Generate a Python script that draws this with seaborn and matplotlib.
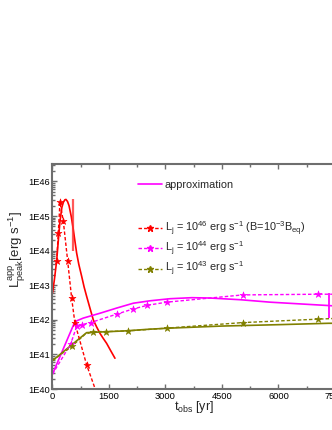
import numpy as np
import pandas as pd
import matplotlib
matplotlib.use("Agg")
import matplotlib.pyplot as plt
import seaborn as sns
from matplotlib.ticker import FuncFormatter, LogLocator, MultipleLocator, NullFormatter
from matplotlib.lines import Line2D

sns.set_style("ticks")
plt.rcParams['font.family'] = ['Liberation Sans', 'DejaVu Sans']
plt.rcParams['mathtext.fontset'] = 'custom'
plt.rcParams['mathtext.rm'] = 'Liberation Sans'
plt.rcParams['mathtext.it'] = 'Liberation Sans:italic'

# ---- data (t_obs in yr, log10 of L_peak) ----
red_approx_t = [0, 50, 111, 160, 200, 250, 290, 330, 358, 400, 440, 500, 553, 600, 642, 700, 775, 840, 907, 1000, 1084, 1170, 1261, 1350, 1438, 1550, 1659]
red_approx_logL = [42.77, 43.15, 43.7, 44.35, 44.85, 45.25, 45.4, 45.47, 45.48, 45.42, 45.3, 44.98, 44.61, 44.25, 43.93, 43.6, 43.26, 42.95, 42.68, 42.32, 42.0, 41.8, 41.61, 41.46, 41.32, 41.1, 40.89]

red_t = [111, 155, 199, 288, 403, 509, 597, 907, 1200]
red_logL = [43.69, 44.51, 45.4, 44.85, 43.71, 42.63, 41.9, 40.7, 39.8]
red_stars = [0, 1, 2, 3, 4, 5, 6, 7]

mag_approx_t = [0, 597, 818, 1261, 1705, 2146, 2589, 3120, 3700, 4183, 5000, 5781, 7368, 7500]
mag_approx_logL = [40.43, 41.95, 42.05, 42.19, 42.34, 42.48, 42.55, 42.61, 42.64, 42.63, 42.58, 42.51, 42.41, 42.40]

mag_t = [0, 483, 642, 775, 1014, 1721, 2129, 2519, 3030, 5050, 7058, 7500]
mag_logL = [40.43, 41.3, 41.81, 41.86, 41.92, 42.17, 42.31, 42.42, 42.51, 42.72, 42.74, 42.74]
mag_stars = [1, 2, 3, 4, 5, 6, 7, 8, 9, 10]

olv_approx_t = [0, 907, 1925, 2589, 3120, 4500, 6000, 7327, 7500]
olv_approx_logL = [40.82, 41.63, 41.68, 41.73, 41.76, 41.82, 41.86, 41.9, 41.9]

olv_t = [0, 509, 863, 1084, 1421, 2013, 3030, 5050, 7058, 7500]
olv_logL = [40.82, 41.23, 41.58, 41.66, 41.66, 41.68, 41.76, 41.92, 42.02, 42.04]
olv_stars = [1, 3, 4, 5, 6, 7, 8]

# vertical bars (t, log low, log high)
red_bar = (536, 43.98, 45.5)
mag_bar = (7330, 42.05, 42.77)

labels = ['approximation',
          r'L$_{\rm j}$ = 10$^{46}$ erg s$^{-1}$ (B=10$^{-3}$B$_{\rm eq}$)',
          r'L$_{\rm j}$ = 10$^{44}$ erg s$^{-1}$',
          r'L$_{\rm j}$ = 10$^{43}$ erg s$^{-1}$']

RED = '#FF0000'
MAG = '#FF00FF'
OLV = '#808000'
GREY = '#6E6E6E'
DASH = (0, (2.5, 1.5))

fig = plt.figure(figsize=(3.32, 4.30), dpi=100)
ax = fig.add_axes([0.158, 0.0953, 0.851, 0.523])

def L(v):
    return 10 ** np.asarray(v, dtype=float)

# approximations (solid)
for t, lg, c in [(red_approx_t, red_approx_logL, RED),
                 (mag_approx_t, mag_approx_logL, MAG),
                 (olv_approx_t, olv_approx_logL, OLV)]:
    sns.lineplot(x=t, y=L(lg), color=c, lw=1.2, ax=ax, sort=False, estimator=None)

# simulations (dashed with stars)
for t, lg, idx, c in [(red_t, red_logL, red_stars, RED),
                      (mag_t, mag_logL, mag_stars, MAG),
                      (olv_t, olv_logL, olv_stars, OLV)]:
    sns.lineplot(x=t, y=L(lg), color=c, lw=1.0, ls=DASH, ax=ax, sort=False, estimator=None)
    sns.scatterplot(x=[t[i] for i in idx], y=L([lg[i] for i in idx]), color=c, marker='*',
                    s=28, edgecolor=c, linewidth=0.4, ax=ax, zorder=3)

ax.vlines(red_bar[0], L(red_bar[1]), L(red_bar[2]), color='#FF3030', lw=1.6, alpha=0.8)
ax.vlines(mag_bar[0], L(mag_bar[1]), L(mag_bar[2]), color=MAG, lw=1.3)

ax.set_yscale('log')
ax.set_xlim(0, 7500)
ax.set_ylim(1e40, 10 ** 46.5)
ax.xaxis.set_major_locator(MultipleLocator(1500))
ax.xaxis.set_minor_locator(MultipleLocator(750))
ax.yaxis.set_major_locator(LogLocator(base=10, numticks=20))
ax.yaxis.set_minor_locator(LogLocator(base=10, subs=np.arange(2, 10), numticks=50))
ax.yaxis.set_minor_formatter(NullFormatter())
ax.yaxis.set_major_formatter(FuncFormatter(lambda v, p: f"1E{int(round(np.log10(v)))}"))

ax.tick_params(which='both', direction='in', top=True, right=False, colors=GREY,
               labelcolor='black', labelsize=6.7, width=1.0, pad=2)
ax.tick_params(which='major', length=3.5)
ax.tick_params(which='minor', length=2)
for s in ax.spines.values():
    s.set_color(GREY)
    s.set_linewidth(1.5)

ax.set_xlabel(r't$_{\rm obs}$ [yr]', fontsize=9)
ax.set_ylabel(r'L$^{\rm app}_{\rm peak}$[erg s$^{-1}$]', fontsize=9.5)
ax.xaxis.set_label_coords(0.5, -0.045)
ax.yaxis.set_label_coords(-0.085, 0.62)

leg_kw = dict(frameon=False, fontsize=7.8, handlelength=2.2, handletextpad=0.25, borderpad=0,
              numpoints=1, bbox_transform=fig.transFigure)
leg1 = ax.legend([Line2D([], [], color=MAG, lw=1.2)], [labels[0]],
                 loc='center left', bbox_to_anchor=(0.40, 0.570), **leg_kw)
ax.add_artist(leg1)
sim_handles = [Line2D([], [], color=c, lw=1.0, ls=DASH, marker='*', markersize=5) for c in (RED, MAG, OLV)]
ax.legend(sim_handles, labels[1:], loc='center left', bbox_to_anchor=(0.40, 0.421),
          labelspacing=0.2, **leg_kw)

fig.savefig('out.png', dpi=100)
